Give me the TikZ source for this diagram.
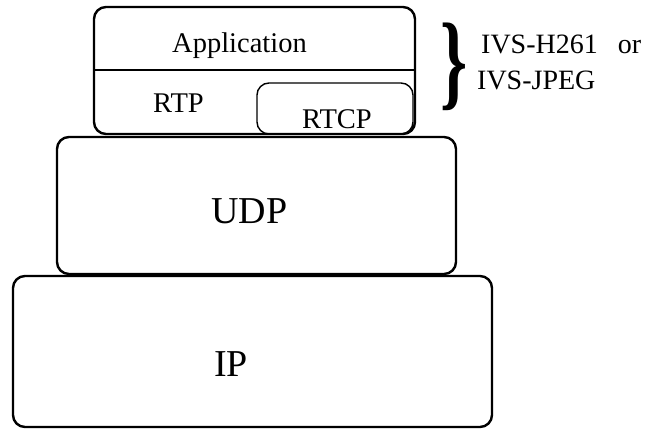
\documentclass[tikz,border=0pt]{standalone}
\usepackage{fontspec}
\setmainfont{Liberation Serif}
\tikzset{
  layer/.style={line width=2.4pt, rounded corners=12pt},
  thinlayer/.style={line width=1.4pt, rounded corners=12pt},
  lbl/.style={inner sep=0pt, anchor=base west, font=\fontsize{28.5}{30}\selectfont},
  sidelbl/.style={inner sep=0pt, anchor=base west, font=\fontsize{28}{30}\selectfont},
  biglbl/.style={inner sep=0pt, anchor=base west, font=\fontsize{38}{40}\selectfont},
}
\begin{document}
\begin{tikzpicture}[x=1pt,y=-1pt]
\useasboundingbox (0,0) rectangle (647,431);
% IP
\draw[layer] (13,276) rectangle (492,427);
% UDP
\draw[layer] (57,137) rectangle (456,274);
% top box
\draw[layer] (94,7) rectangle (415,134);
\draw[line width=1.4pt] (94,70) -- (415,70);
\draw[thinlayer] (257,83) rectangle (413,134);
\node[lbl] (app) at (172,52) {Application};
\node[lbl] (rtp) at (153,112) {RTP};
\node[lbl] (rtcp) at (302,128) {RTCP};
\node[biglbl] (udp) at (211,223) {UDP};
\node[biglbl] (ip) at (214,376) {IP};
\node[inner sep=0pt, anchor=center, xscale=0.65, font=\fontsize{106}{106}\selectfont\bfseries] (brace) at (454,67) {\}};
\node[sidelbl] (h261) at (481,53) {IVS-H261\hspace{20pt}or};
\node[sidelbl] (jpeg) at (477,89) {IVS-JPEG};
\end{tikzpicture}
\end{document}
